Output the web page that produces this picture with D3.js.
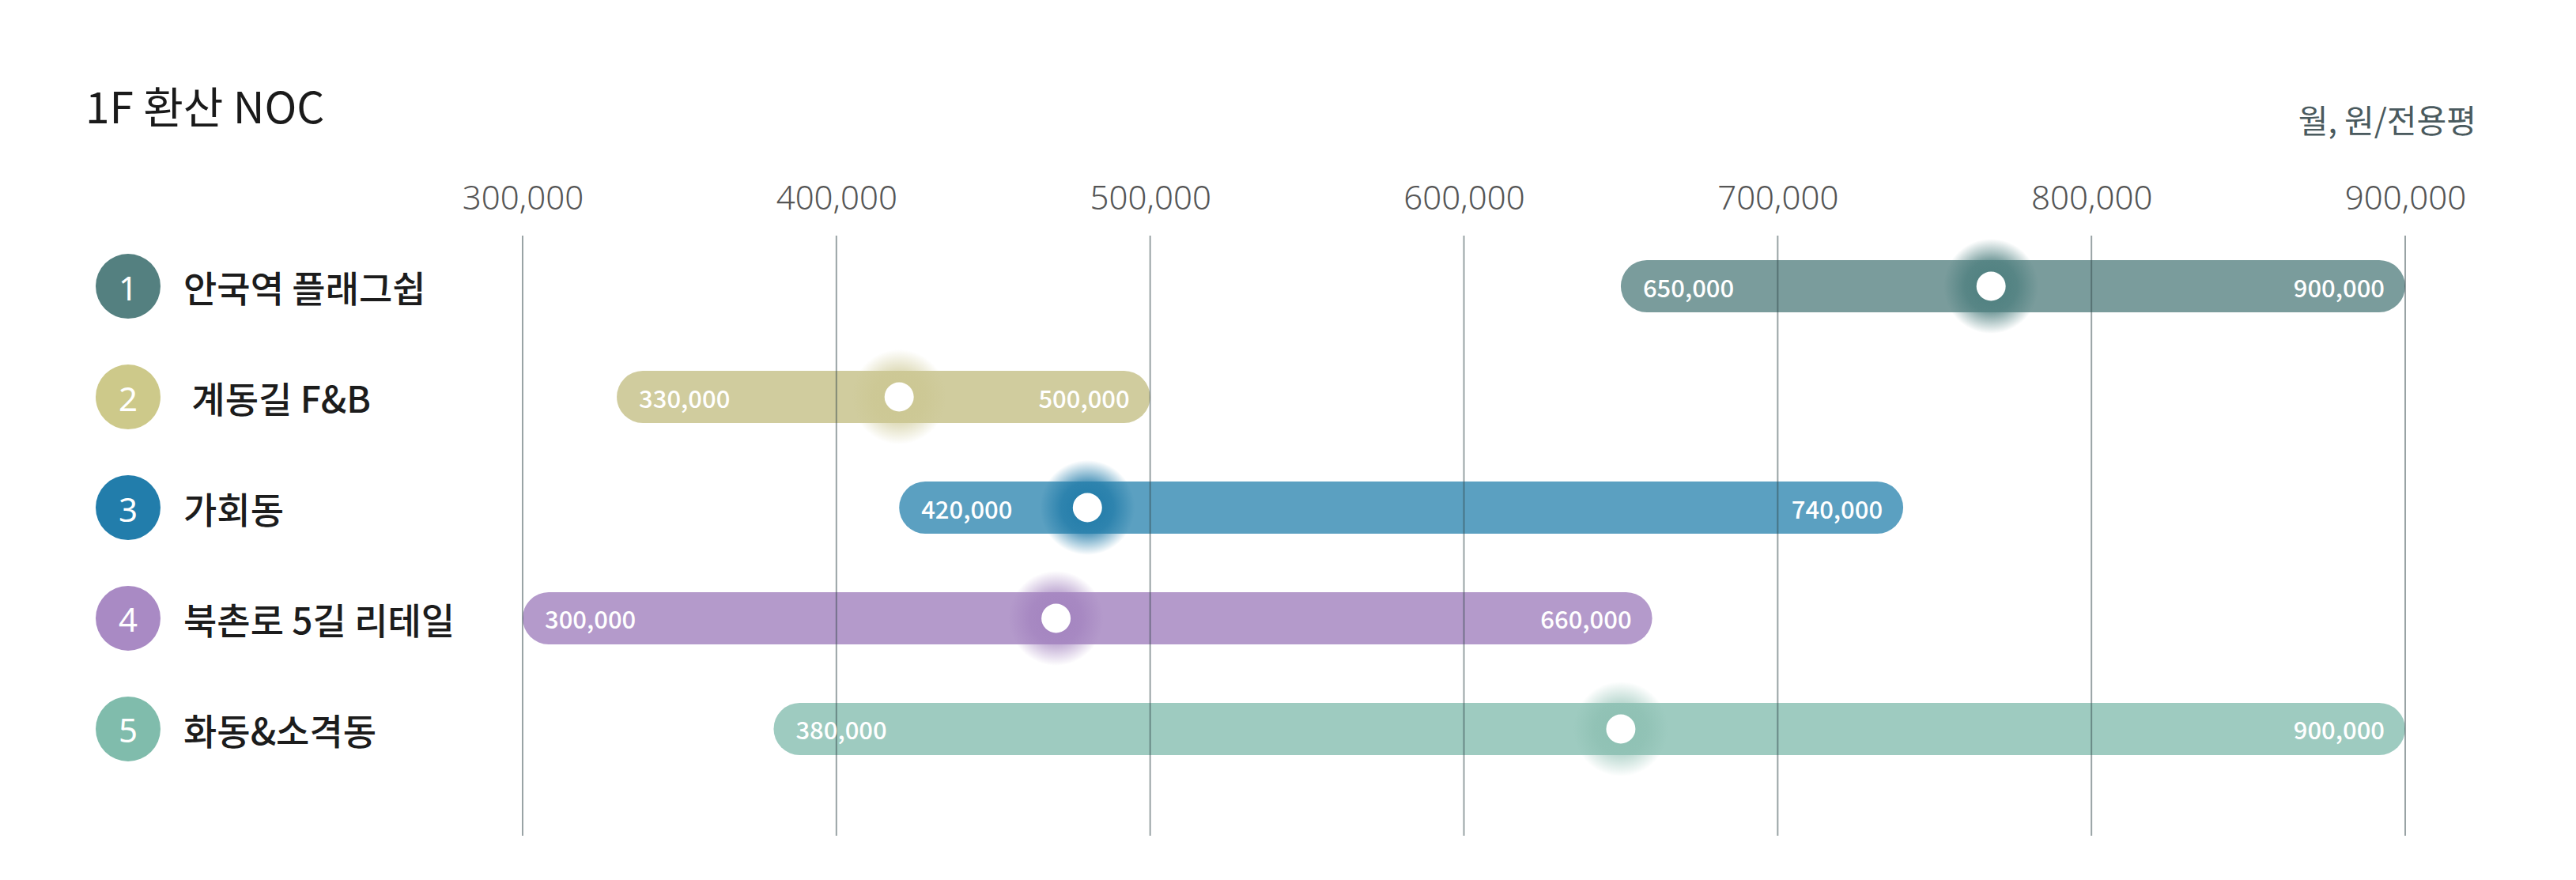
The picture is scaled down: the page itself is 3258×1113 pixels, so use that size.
<!DOCTYPE html>
<html>
<head>
<meta charset="utf-8">
<script src="https://cdn.jsdelivr.net/npm/d3@7"></script>
<style>
  html, body { margin: 0; padding: 0; background: #ffffff; }
  svg { display: block; }
  text { font-family: "Noto Sans CJK KR", "Noto Sans", sans-serif; }
</style>
</head>
<body>
<script>
// ---- data ----
const categories = ["안국역 플래그쉽", "\u00a0계동길 F&B", "가회동", "북촌로 5길 리테일", "화동&소격동"];
const rankLabels = ["1", "2", "3", "4", "5"];
const minValues = [650000, 330000, 420000, 300000, 380000];
const maxValues = [900000, 500000, 740000, 660000, 900000];
const midValues = [768000, 420000, 480000, 470000, 650000];
const tickValues = [300000, 400000, 500000, 600000, 700000, 800000, 900000];
const tickLabels = ["300,000", "400,000", "500,000", "600,000", "700,000", "800,000", "900,000"];
const minLabels = ["650,000", "330,000", "420,000", "300,000", "380,000"];
const maxLabels = ["900,000", "500,000", "740,000", "660,000", "900,000"];
const badgeColors = ["#548080", "#cdc98a", "#227dab", "#a98ac4", "#80bcac"];
const barColors = ["#7a9c9c", "#d0cc9e", "#5ba0c1", "#b49acb", "#9ecbc0"];
const glowColors = ["#4c7e7e", "#cbc690", "#1f7aa8", "#a07fbd", "#88bcae"];
const glowStrength = [1, 0.8, 1, 0.85, 0.75];
const titleText = "1F 환산 NOC";
const unitText = "월, 원/전용평";

// ---- layout ----
const W = 3258, H = 1113;
const svg = d3.select("body").append("svg").attr("width", W).attr("height", H);

const x = d3.scaleLinear().domain([300000, 900000]).range([661, 3042]);
const y = d3.scaleBand().domain(d3.range(categories.length)).range([255, 1029]).padding(0.529);
const barH = y.bandwidth();
const cy = i => y(i) + barH / 2;

// title & unit
svg.append("text").attr("x", 108).attr("y", 156)
  .attr("font-size", 55).attr("fill", "#1a1a1a").text(titleText);
svg.append("text").attr("x", 3132).attr("y", 168).attr("text-anchor", "end")
  .attr("font-size", 41).attr("fill", "#4a5a5e").text(unitText);

// gradients for glows
const defs = svg.append("defs");
categories.forEach((c, i) => {
  const g = defs.append("radialGradient").attr("id", "glow" + i);
  g.append("stop").attr("offset", "0%").attr("stop-color", glowColors[i]).attr("stop-opacity", glowStrength[i]);
  g.append("stop").attr("offset", "55%").attr("stop-color", glowColors[i]).attr("stop-opacity", glowStrength[i] * 0.75);
  g.append("stop").attr("offset", "100%").attr("stop-color", glowColors[i]).attr("stop-opacity", 0);
});

// top axis labels
const axis = d3.axisTop(x).tickValues(tickValues).tickFormat((d, i) => tickLabels[i]).tickSize(0).tickPadding(0);
const axG = svg.append("g").attr("transform", "translate(0,265)").call(axis);
axG.select(".domain").remove();
axG.selectAll("text").attr("font-size", 42).attr("font-weight", 300).attr("fill", "#555555")
  .attr("dy", 0).style("font-family", "'Noto Sans', sans-serif");

// bars
svg.append("g").selectAll("rect").data(categories).join("rect")
  .attr("x", (d, i) => x(minValues[i]))
  .attr("y", (d, i) => y(i))
  .attr("width", (d, i) => x(maxValues[i]) - x(minValues[i]))
  .attr("height", barH)
  .attr("rx", barH / 2)
  .attr("fill", (d, i) => barColors[i]);

// grid lines (over bars)
svg.append("g").selectAll("line").data(tickValues).join("line")
  .attr("x1", d => x(d)).attr("x2", d => x(d))
  .attr("y1", 298).attr("y2", 1057)
  .attr("stroke", "#33474b").attr("stroke-opacity", 0.5).attr("stroke-width", 2);

// glow + dots
svg.append("g").selectAll("circle").data(categories).join("circle")
  .attr("cx", (d, i) => x(midValues[i])).attr("cy", (d, i) => cy(i))
  .attr("r", 60).attr("fill", (d, i) => `url(#glow${i})`);
svg.append("g").selectAll("circle").data(categories).join("circle")
  .attr("cx", (d, i) => x(midValues[i])).attr("cy", (d, i) => cy(i))
  .attr("r", 18.5).attr("fill", "#ffffff");

// value labels
const vl = svg.append("g").attr("font-size", 31).attr("font-weight", 500).attr("fill", "#ffffff")
  .style("font-family", "'Noto Sans', sans-serif");
vl.selectAll("text.min").data(categories).join("text").attr("class", "min")
  .attr("x", (d, i) => x(minValues[i]) + 28).attr("y", (d, i) => cy(i))
  .attr("dominant-baseline", "central").text((d, i) => minLabels[i]);
vl.selectAll("text.max").data(categories).join("text").attr("class", "max")
  .attr("x", (d, i) => x(maxValues[i]) - 26).attr("y", (d, i) => cy(i))
  .attr("text-anchor", "end")
  .attr("dominant-baseline", "central").text((d, i) => maxLabels[i]);

// badges
const badges = svg.append("g").selectAll("g").data(categories).join("g")
  .attr("transform", (d, i) => `translate(162,${cy(i)})`);
badges.append("circle").attr("r", 41).attr("fill", (d, i) => badgeColors[i]);
badges.append("text").attr("text-anchor", "middle").attr("dominant-baseline", "central")
  .attr("font-size", 42).attr("fill", "#ffffff").attr("dy", 1)
  .style("font-family", "'Noto Sans', sans-serif")
  .text((d, i) => rankLabels[i]);

// category labels
svg.append("g").selectAll("text").data(categories).join("text")
  .attr("x", 232).attr("y", (d, i) => cy(i))
  .attr("dominant-baseline", "central")
  .attr("font-size", 46).attr("font-weight", 500).attr("fill", "#1c1c1c")
  .style("white-space", "pre")
  .text(d => d);
</script>
</body>
</html>
